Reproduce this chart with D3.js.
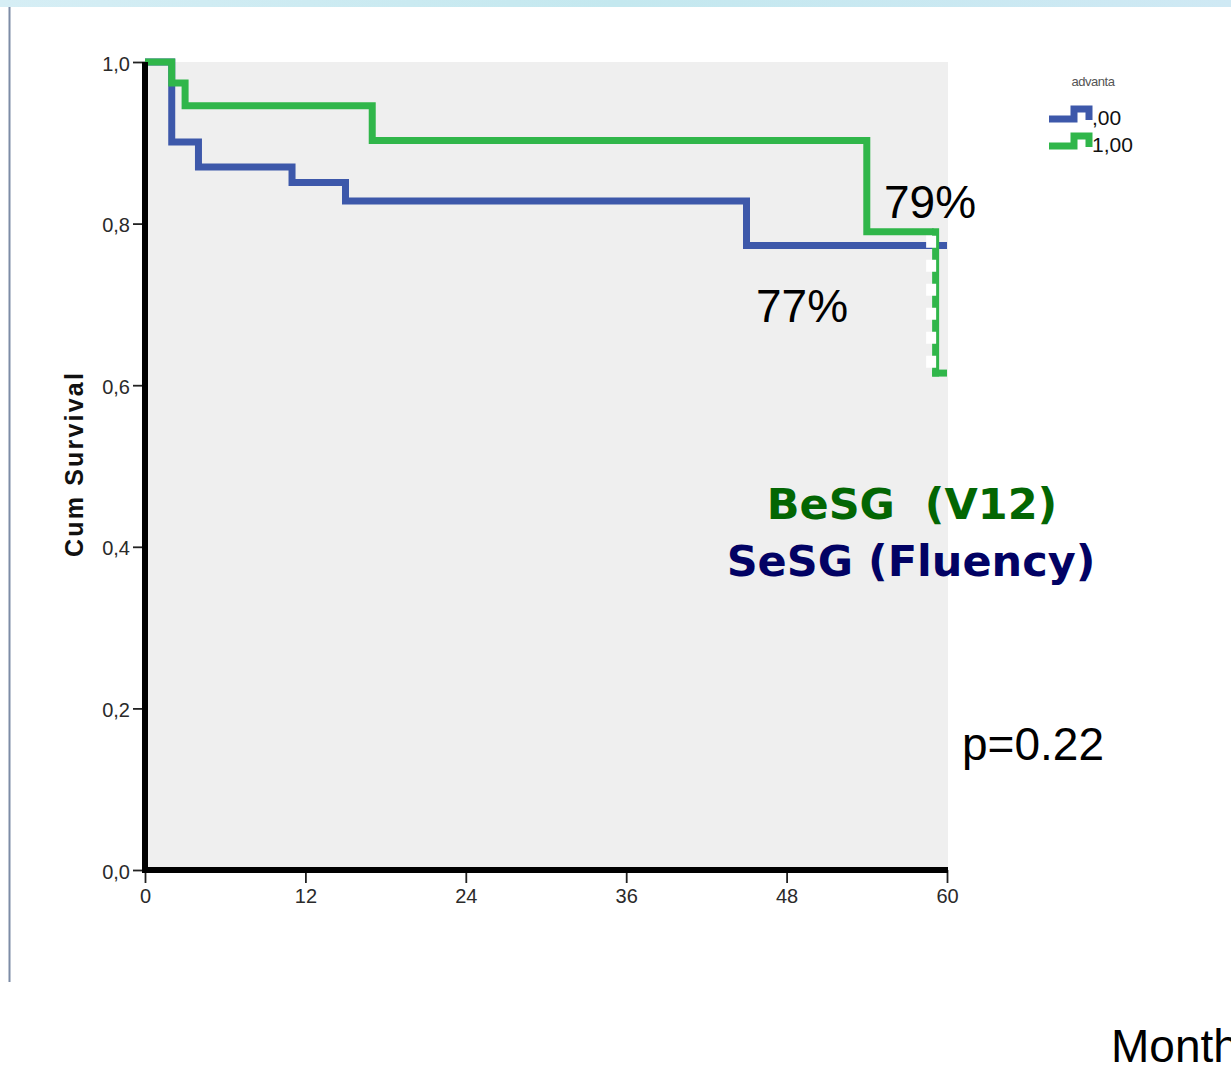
<!DOCTYPE html>
<html>
<head>
<meta charset="utf-8">
<script src="https://cdn.jsdelivr.net/npm/d3@7"></script>
<style>
html,body{margin:0;padding:0;background:#fff;}
svg{display:block;}
</style>
</head>
<body>
<svg id="chart" width="1231" height="1066"></svg>
<script>
// ---- data ----
const xTickValues = [0, 12, 24, 36, 48, 60];
const xTickLabels = ["0", "12", "24", "36", "48", "60"];
const yTickValues = [0, 0.2, 0.4, 0.6, 0.8, 1.0];
const yTickLabels = ["0,0", "0,2", "0,4", "0,6", "0,8", "1,0"];

const seriesNames = [",00", "1,00"];
const blueTimes = [0, 2, 4, 11, 15, 45, 60];
const blueSurv  = [1.0, 0.901, 0.870, 0.851, 0.828, 0.773, 0.773];
const greenTimes = [0, 2, 3, 17, 54, 59, 60];
const greenSurv  = [1.0, 0.974, 0.946, 0.903, 0.790, 0.615, 0.615];

const svg = d3.select("#chart");

// background decoration
const grad = svg.append("defs").append("linearGradient").attr("id","topband").attr("x1","0").attr("x2","1");
grad.append("stop").attr("offset","0").attr("stop-color","#d6eef5");
grad.append("stop").attr("offset","0.5").attr("stop-color","#c4e8ef");
grad.append("stop").attr("offset","1").attr("stop-color","#cfe9f4");
svg.append("rect").attr("x",0).attr("y",0).attr("width",1231).attr("height",7).attr("fill","url(#topband)");
svg.append("line").attr("x1",9.5).attr("x2",9.5).attr("y1",7).attr("y2",982)
  .attr("stroke","#7d8ca6").attr("stroke-width",2);

const x = d3.scaleLinear().domain([0, 60]).range([145, 947]);
const y = d3.scaleLinear().domain([0, 1]).range([870, 62]);

// plot background
svg.append("rect").attr("x", x(0)).attr("y", y(1))
  .attr("width", 948 - x(0)).attr("height", y(0) - y(1)).attr("fill", "#efefef");

const blue = "#3d58aa", green = "#30b64a";
const LW = 7;
const step = d3.line().x(d => x(d[0])).y(d => y(d[1])).curve(d3.curveStepAfter);

// blue curve
const bluePts = blueTimes.map((t, i) => [t, blueSurv[i]]);
svg.append("path").attr("d", step(bluePts)).attr("fill","none")
  .attr("stroke", blue).attr("stroke-width", LW);

// green curve: solid until last event, then dashed drop (censor) and tail
const nG = greenTimes.length;
const greenSolid = greenTimes.slice(0, nG - 2).map((t, i) => [t, greenSurv[i]]);
greenSolid.push([greenTimes[nG - 2], greenSurv[nG - 3]]);
svg.append("path").attr("d", step(greenSolid)).attr("fill","none")
  .attr("stroke", green).attr("stroke-width", LW);
const tc = greenTimes[nG - 2];
// dashed vertical
svg.append("line").attr("x1", x(tc)+2).attr("x2", x(tc)+2)
  .attr("y1", y(greenSurv[nG - 3]) - 3.5).attr("y2", y(greenSurv[nG - 2]) + 3.5)
  .attr("stroke", green).attr("stroke-width", LW);
svg.append("line").attr("x1", x(tc) - 2.5).attr("x2", x(tc) - 2.5)
  .attr("y1", y(greenSurv[nG - 3]) + 4).attr("y2", y(greenSurv[nG - 2]) - 3)
  .attr("stroke", "#ffffff").attr("stroke-width", 10)
  .attr("stroke-dasharray", "12,12");
// tail
svg.append("line").attr("x1", x(tc) - 1.5).attr("x2", x(greenTimes[nG - 1]))
  .attr("y1", y(greenSurv[nG - 1])).attr("y2", y(greenSurv[nG - 1]))
  .attr("stroke", green).attr("stroke-width", LW);

// axes
const tickFont = "Liberation Sans, Arial, sans-serif";
const yAxis = d3.axisLeft(y).tickValues(yTickValues).tickSize(12).tickPadding(3)
  .tickFormat((d, i) => yTickLabels[i]);
const gy = svg.append("g").attr("transform", `translate(${x(0)},0)`).call(yAxis);
gy.select(".domain").remove();
gy.selectAll(".tick line").attr("stroke", "#222").attr("stroke-width", 1.8);
gy.selectAll(".tick text").attr("font-family", tickFont).attr("font-size", 20)
  .attr("fill", "#2a2a2a").attr("dy", "0.4em");

const xAxis = d3.axisBottom(x).tickValues(xTickValues).tickSize(13).tickPadding(6)
  .tickFormat((d, i) => xTickLabels[i]);
const gx = svg.append("g").attr("transform", `translate(0,${y(0)})`).call(xAxis);
gx.select(".domain").remove();
gx.selectAll(".tick line").attr("stroke", "#222").attr("stroke-width", 1.8);
gx.selectAll(".tick text").attr("font-family", tickFont).attr("font-size", 20)
  .attr("fill", "#2a2a2a");

// thick axis lines
svg.append("line").attr("x1", x(0)).attr("x2", x(0)).attr("y1", y(1)).attr("y2", y(0) + 3)
  .attr("stroke", "#000").attr("stroke-width", 6);
svg.append("line").attr("x1", x(0) - 3).attr("x2", 948).attr("y1", y(0)).attr("y2", y(0))
  .attr("stroke", "#000").attr("stroke-width", 6);

// y title
svg.append("text").attr("transform", "translate(83,464) rotate(-90)")
  .attr("text-anchor", "middle").attr("font-family", "Liberation Sans, Arial, sans-serif")
  .attr("font-weight", "bold").attr("font-size", 25).attr("letter-spacing", 2.2)
  .attr("fill", "#111").text("Cum Survival");

// legend
svg.append("text").attr("x", 1093).attr("y", 86).attr("text-anchor", "middle")
  .attr("font-family", tickFont).attr("font-size", 13).attr("fill", "#555")
  .attr("letter-spacing", -0.5).text("advanta");
const legendColors = [blue, green];
const legendY = [114, 141];
seriesNames.forEach((name, i) => {
  const cy = legendY[i];
  svg.append("path")
    .attr("d", `M1049,${cy+5} H1074 V${cy-5} H1089 V${cy+6}`)
    .attr("fill", "none").attr("stroke", legendColors[i]).attr("stroke-width", 7);
  svg.append("text").attr("x", 1092).attr("y", cy + 11)
    .attr("font-family", tickFont).attr("font-size", 21).attr("fill", "#111").text(name);
});

// annotations
const ann = "Liberation Sans, Arial, sans-serif";
svg.append("text").attr("x", 884).attr("y", 218).attr("font-family", ann)
  .attr("font-size", 46).attr("fill", "#000").text("79%");
svg.append("text").attr("x", 756).attr("y", 322).attr("font-family", ann)
  .attr("font-size", 46).attr("fill", "#000").text("77%");
svg.append("text").attr("x", 912).attr("y", 519).attr("text-anchor", "middle")
  .attr("font-family", "DejaVu Sans, Verdana, sans-serif").attr("font-weight", "bold")
  .attr("font-size", 43).attr("fill", "#036603")
  .style("white-space","pre").text("BeSG  (V12)");
svg.append("text").attr("x", 911).attr("y", 576).attr("text-anchor", "middle")
  .attr("font-family", "DejaVu Sans, Verdana, sans-serif").attr("font-weight", "bold")
  .attr("font-size", 43).attr("fill", "#020264").text("SeSG (Fluency)");
svg.append("text").attr("x", 962).attr("y", 760).attr("font-family", ann)
  .attr("font-size", 46).attr("fill", "#000").text("p=0.22");
svg.append("text").attr("x", 1111).attr("y", 1062).attr("font-family", ann)
  .attr("font-size", 46).attr("fill", "#000").text("Month");
</script>
</body>
</html>
